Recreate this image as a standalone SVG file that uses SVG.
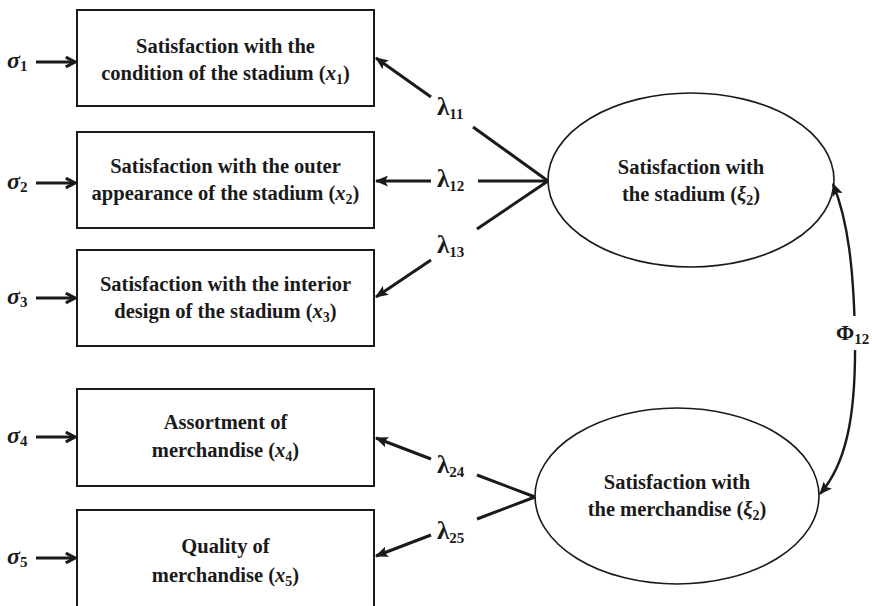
<svg xmlns="http://www.w3.org/2000/svg" width="872" height="606" viewBox="0 0 872 606">
  <style>
    .box { fill: #fff; stroke: #1a1a1a; stroke-width: 2; }
    .ell { fill: #fff; stroke: #1a1a1a; stroke-width: 1.6; }
    .lbl { font-family: "Liberation Serif", "Times New Roman", serif; font-weight: bold; font-size: 20.5px; fill: #1a1a1a; text-anchor: middle; }
    .greek { font-family: "Liberation Serif", "DejaVu Serif", serif; font-weight: bold; fill: #1a1a1a; }
    .load { stroke: #1a1a1a; stroke-width: 3; fill: none; }
    .err { stroke: #1a1a1a; stroke-width: 3; fill: none; }
    .cov { stroke: #1a1a1a; stroke-width: 2.4; fill: none; }
  </style>
  <defs>
    <marker id="head" viewBox="0 0 12 10" refX="11" refY="5" markerWidth="13" markerHeight="11" markerUnits="userSpaceOnUse" orient="auto-start-reverse">
      <path d="M0,0 L12,5 L0,10 L2.5,5 z" fill="#1a1a1a"/>
    </marker>
    <marker id="chev" viewBox="0 0 12 12" refX="10" refY="6" markerWidth="13" markerHeight="13" markerUnits="userSpaceOnUse" orient="auto">
      <path d="M1.5,1.5 L10,6 L1.5,10.5" fill="none" stroke="#1a1a1a" stroke-width="2.8"/>
    </marker>
  </defs>

  <!-- measurement boxes -->
  <g id="x1">
    <rect class="box" x="77" y="10" width="297" height="96"/>
    <text class="lbl" x="225.5" y="53">Satisfaction with the</text>
    <text class="lbl" x="225.5" y="80">condition of the stadium (<tspan font-style="italic">x</tspan><tspan font-size="14" dy="4">1</tspan><tspan dy="-4">)</tspan></text>
  </g>
  <g id="x2">
    <rect class="box" x="77" y="132" width="297" height="96"/>
    <text class="lbl" x="225.5" y="173">Satisfaction with the outer</text>
    <text class="lbl" x="225.5" y="200">appearance of the stadium (<tspan font-style="italic">x</tspan><tspan font-size="14" dy="4">2</tspan><tspan dy="-4">)</tspan></text>
  </g>
  <g id="x3">
    <rect class="box" x="77" y="250" width="297" height="96"/>
    <text class="lbl" x="225.5" y="291">Satisfaction with the interior</text>
    <text class="lbl" x="225.5" y="318">design of the stadium (<tspan font-style="italic">x</tspan><tspan font-size="14" dy="4">3</tspan><tspan dy="-4">)</tspan></text>
  </g>
  <g id="x4">
    <rect class="box" x="77" y="389" width="297" height="97"/>
    <text class="lbl" x="225.5" y="429">Assortment of</text>
    <text class="lbl" x="225.5" y="457">merchandise (<tspan font-style="italic">x</tspan><tspan font-size="14" dy="4">4</tspan><tspan dy="-4">)</tspan></text>
  </g>
  <g id="x5">
    <rect class="box" x="77" y="510" width="297" height="100"/>
    <text class="lbl" x="225.5" y="553">Quality of</text>
    <text class="lbl" x="225.5" y="582">merchandise (<tspan font-style="italic">x</tspan><tspan font-size="14" dy="4">5</tspan><tspan dy="-4">)</tspan></text>
  </g>

  <!-- latent constructs -->
  <g id="xi1">
    <ellipse class="ell" cx="691" cy="180" rx="143" ry="87"/>
    <text class="lbl" x="691" y="174">Satisfaction with</text>
    <text class="lbl" x="691" y="201">the stadium (<tspan font-style="italic">ξ</tspan><tspan font-size="14" dy="4">2</tspan><tspan dy="-4">)</tspan></text>
  </g>
  <g id="xi2">
    <ellipse class="ell" cx="677" cy="496" rx="142" ry="88"/>
    <text class="lbl" x="677" y="489">Satisfaction with</text>
    <text class="lbl" x="677" y="516">the merchandise (<tspan font-style="italic">ξ</tspan><tspan font-size="14" dy="4">2</tspan><tspan dy="-4">)</tspan></text>
  </g>

  <!-- error terms -->
  <g id="errors">
    <text class="greek" font-style="italic" font-size="24" x="7" y="68">σ<tspan font-size="15" font-style="normal" dy="3">1</tspan></text>
    <text class="greek" font-style="italic" font-size="24" x="7" y="189">σ<tspan font-size="15" font-style="normal" dy="3">2</tspan></text>
    <text class="greek" font-style="italic" font-size="24" x="7" y="304">σ<tspan font-size="15" font-style="normal" dy="3">3</tspan></text>
    <text class="greek" font-style="italic" font-size="24" x="7" y="443">σ<tspan font-size="15" font-style="normal" dy="3">4</tspan></text>
    <text class="greek" font-style="italic" font-size="24" x="7" y="564">σ<tspan font-size="15" font-style="normal" dy="3">5</tspan></text>
  </g>

  <!-- connectors -->
  <g id="connectors">
    <line class="err" x1="36" y1="62" x2="75" y2="62" marker-end="url(#chev)"/>
    <line class="err" x1="36" y1="183" x2="75" y2="183" marker-end="url(#chev)"/>
    <line class="err" x1="36" y1="298" x2="75" y2="298" marker-end="url(#chev)"/>
    <line class="err" x1="36" y1="437" x2="75" y2="437" marker-end="url(#chev)"/>
    <line class="err" x1="36" y1="558" x2="75" y2="558" marker-end="url(#chev)"/>

    <!-- loadings on the stadium construct -->
    <line class="load" x1="548" y1="181" x2="473" y2="127"/>
    <line class="load" x1="431" y1="97" x2="376" y2="58" marker-end="url(#head)"/>
    <line class="load" x1="548" y1="181" x2="478" y2="181"/>
    <line class="load" x1="431" y1="181" x2="376" y2="181" marker-end="url(#head)"/>
    <line class="load" x1="548" y1="181" x2="477" y2="229"/>
    <line class="load" x1="431" y1="260" x2="376" y2="297" marker-end="url(#head)"/>

    <!-- loadings on the merchandise construct -->
    <line class="load" x1="535" y1="497" x2="477" y2="475"/>
    <line class="load" x1="431" y1="459" x2="376" y2="438" marker-end="url(#head)"/>
    <line class="load" x1="535" y1="497" x2="477" y2="519"/>
    <line class="load" x1="431" y1="535" x2="376" y2="556" marker-end="url(#head)"/>

    <!-- covariance -->
    <path class="cov" d="M820,494 C845,465 856,420 855,340 C854,270 848,220 833,184" marker-start="url(#head)" marker-end="url(#head)"/>
    <rect x="836" y="316" width="36" height="34" fill="#fff"/>
  </g>

  <!-- path labels -->
  <g id="labels">
    <text class="greek" font-size="25" x="437" y="115">λ<tspan font-size="15" dy="4">11</tspan></text>
    <text class="greek" font-size="25" x="437" y="187">λ<tspan font-size="15" dy="4">12</tspan></text>
    <text class="greek" font-size="25" x="437" y="253">λ<tspan font-size="15" dy="4">13</tspan></text>
    <text class="greek" font-size="25" x="437" y="473">λ<tspan font-size="15" dy="4">24</tspan></text>
    <text class="greek" font-size="25" x="437" y="539">λ<tspan font-size="15" dy="4">25</tspan></text>
    <text class="greek" font-size="22" x="836" y="340">Φ<tspan font-size="15" dy="4">12</tspan></text>
  </g>
</svg>
